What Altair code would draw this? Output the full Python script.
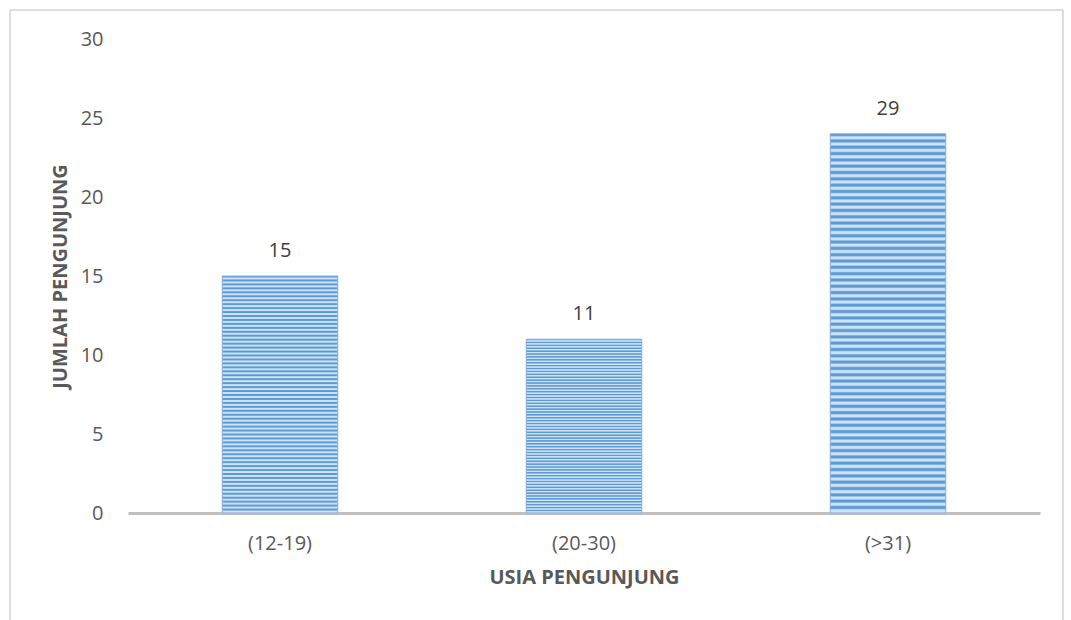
import altair as alt
import pandas as pd

categories = ["(12-19)", "(20-30)", "(>31)"]
bar_values = [15, 11, 24]
bar_labels = ["15", "11", "29"]

df = pd.DataFrame({"usia": categories, "jumlah": bar_values, "label": bar_labels})

FONT = "Open Sans"
GREY = "#595959"

x_enc = alt.X(
    "usia:N",
    sort=categories,
    scale=alt.Scale(paddingInner=0.62, paddingOuter=0.31),
    axis=alt.Axis(
        title="USIA PENGUNJUNG",
        labelAngle=0,
        labelFontSize=20,
        labelColor=GREY,
        labelFont=FONT,
        labelPadding=20,
        ticks=False,
        domainColor="#BFBFBF",
        domainWidth=3,
        titleFont=FONT,
        titleFontSize=20,
        titleFontWeight="bold",
        titleColor=GREY,
        titlePadding=14,
    ),
)
y_enc = alt.Y(
    "jumlah:Q",
    scale=alt.Scale(domain=[0, 30], nice=False),
    axis=alt.Axis(
        title="JUMLAH PENGUNJUNG",
        values=[0, 5, 10, 15, 20, 25, 30],
        labelFontSize=20,
        labelColor=GREY,
        labelFont=FONT,
        labelPadding=25,
        domain=False,
        ticks=False,
        grid=False,
        titleFont=FONT,
        titleFontSize=20,
        titleFontWeight="bold",
        titleColor=GREY,
        titlePadding=10,
    ),
)

stops = []
n = 60
for i in range(n):
    a = i / n
    b = (i + 0.5) / n
    stops.append(alt.GradientStop(offset=a, color="#5B9BD5"))
    stops.append(alt.GradientStop(offset=min(a + 0.25 / n, 1), color="#5B9BD5"))
    stops.append(alt.GradientStop(offset=b, color="#CFE2F5"))
    stops.append(alt.GradientStop(offset=min(b + 0.25 / n, 1), color="#CFE2F5"))

bars = alt.Chart(df).mark_bar(
    color=alt.LinearGradient(gradient="linear", stops=stops, x1=0, x2=0, y1=0, y2=1),
    stroke="#7FB0E0",
    strokeWidth=1,
).encode(x=x_enc, y=y_enc)

text = alt.Chart(df).mark_text(
    baseline="bottom", dy=-15, fontSize=20, font=FONT, color="#404040"
).encode(x=alt.X("usia:N", sort=categories), y="jumlah:Q", text="label:N")

frame = alt.Chart(df).mark_rect(
    fill=None, stroke="#D9D9D9", strokeWidth=1
).encode(
    x=alt.value(-118), x2=alt.value(935), y=alt.value(-29), y2=alt.value(600)
)

chart = (
    alt.layer(frame, bars, text)
    .properties(
        width=912,
        height=474,
        autosize=alt.AutoSizeParams(type="none"),
        padding={"left": 128, "top": 39, "right": 31, "bottom": 107},
        background="white",
    )
    .configure_view(stroke=None)
)

chart.save("out.html", embed_options={"renderer": "svg", "actions": False})
